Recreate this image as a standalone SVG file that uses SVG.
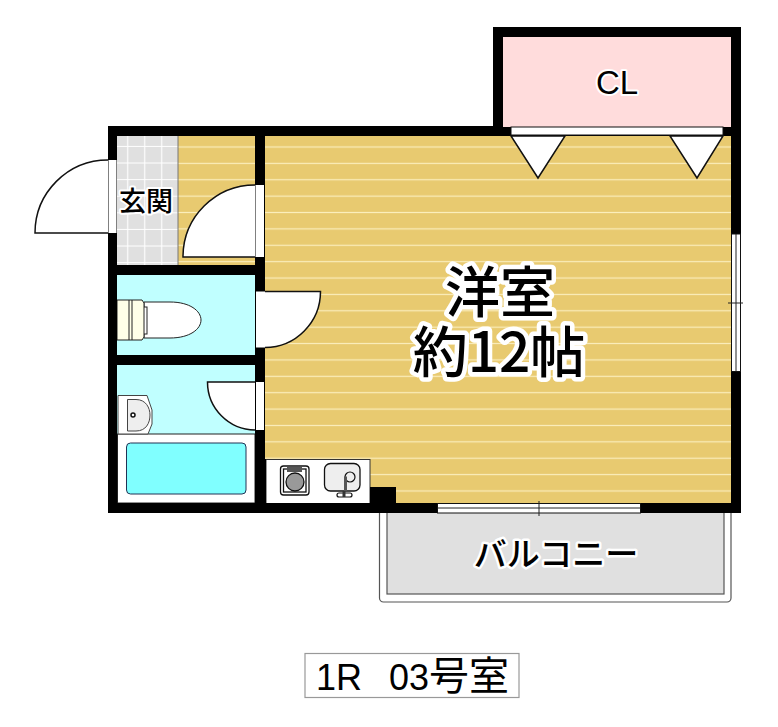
<svg xmlns="http://www.w3.org/2000/svg" width="778" height="727" viewBox="0 0 778 727">
<style>
.w{fill:#000}
.o{fill:#fff;stroke:#111;stroke-width:1.5}
.d{fill:#fff;stroke:none}
.t{font-family:"Liberation Sans","Noto Sans CJK JP",sans-serif;fill:#000;text-anchor:middle}
.j{font-family:"Noto Sans CJK JP","Liberation Sans",sans-serif;font-weight:500;fill:#000;text-anchor:middle}
.h{stroke:#fff;stroke-linejoin:round;paint-order:stroke}
.fx{fill:#fff;stroke:#222;stroke-width:1}
</style>
<defs>
<pattern id="wood" patternUnits="userSpaceOnUse" x="0" y="138.8" width="20" height="16.38"><rect width="20" height="16.38" fill="#e8ca70"/><rect y="7.6" width="20" height="1.2" fill="#fbeebc"/></pattern>
<pattern id="tile" patternUnits="userSpaceOnUse" x="111.3" y="130.3" width="17" height="16.6"><rect width="17" height="16.6" fill="#e0e0e0"/><path d="M16.5 0V16.6M0 16.2H17" stroke="#fff" stroke-width="1.2"/></pattern>
</defs>
<rect width="778" height="727" fill="#fff"/>
<g id="balcony">
<rect x="379.5" y="505" width="351.5" height="97" rx="4" fill="#fff" stroke="#555" stroke-width="1.2"/>
<rect x="387" y="505" width="337" height="89" fill="#e0e0e0" stroke="#555" stroke-width="1.2"/>
<text class="j h" x="556" y="566" font-size="33" stroke-width="5">バルコニー</text>
</g>
<g id="room-main">
<rect x="265" y="136" width="466" height="367" fill="url(#wood)"/>
<text class="j h" font-size="55" stroke-width="9"><tspan x="500" y="312">洋室</tspan><tspan x="499" y="372">約12帖</tspan></text>
</g>
<g id="entrance">
<rect x="178" y="136" width="77" height="129" fill="url(#wood)"/>
<rect x="117" y="136" width="61" height="129" fill="url(#tile)"/>
<path d="M178 136V265" stroke="#777" stroke-width="1"/>
</g>
<g id="toilet">
<rect x="117" y="275" width="138" height="80" fill="#c0ffff"/>
<path d="M144 302H170C190 302 201 311 201 320C201 329 190 338 170 338H144Z" class="fx" stroke-width="1.2"/>
<rect x="143" y="307" width="4" height="27" class="fx"/>
<path d="M117 300H142L144 303V337L142 340H117Z" fill="#ffffe8" stroke="#222" stroke-width="1"/>
<path d="M129 300V340M132 300V340" stroke="#222" stroke-width="1" fill="none"/>
</g>
<g id="bath">
<rect x="117" y="365" width="138" height="70" fill="#c0ffff"/>
<rect x="117.500" y="434" width="137.500" height="69" fill="#fff" stroke="#222" stroke-width="1"/>
<rect x="126.500" y="443" width="119.500" height="51" rx="4" fill="#80ffff" stroke="#235" stroke-width="1"/>
<path d="M118 395.500H147L152 410V424L148 434H118Z" fill="#fff" stroke="#444" stroke-width="1"/>
<path d="M127.500 399.500H136C146 399.500 150 408 150 415C150 423 146 431 136 431H127.500Z" fill="#eee" stroke="#444" stroke-width="1"/>
<circle cx="133" cy="415" r="2" fill="#fff" stroke="#111" stroke-width="1.5"/>
</g>
<g id="kitchen">
<rect x="266" y="459.500" width="104" height="44" fill="#fff" stroke="#333" stroke-width="1"/>
<rect x="280.500" y="466" width="28.500" height="29" rx="3" fill="#fff" stroke="#111" stroke-width="1.300"/>
<rect x="283.500" y="469" width="22.500" height="23" fill="#fff" stroke="#111" stroke-width="1.300"/>
<rect x="287" y="467" width="15" height="5" fill="#555"/>
<circle cx="295" cy="482" r="9" fill="#999" stroke="#111" stroke-width="1.300"/>
<rect x="324.500" y="463.500" width="35.500" height="27.500" rx="6" fill="#eee" stroke="#111" stroke-width="1.300"/>
<circle cx="350" cy="477" r="5" fill="#eee" stroke="#111" stroke-width="1.200"/>
<path d="M344 478H345.500V491" fill="none" stroke="#555" stroke-width="3"/>
<rect x="337" y="493" width="15" height="4" rx="2" fill="#fff" stroke="#111" stroke-width="1.200"/>
<path d="M344 491V497" stroke="#333" stroke-width="3"/>
</g>
<g id="closet">
<rect x="503" y="37" width="228" height="90" fill="#ffdcdc"/>
<text class="t h" x="617" y="94" font-size="33" stroke-width="4">CL</text>
</g>
<g id="walls">
<path class="w" d="M108 126H493V27H741V513H108ZM117 136V265H255V136ZM265 136V459H266V503H370V487H396V503H731V136H503V126H503V37H731V127H503V136ZM117 275V355H255V275ZM117 365V503H255V365Z" fill-rule="evenodd"/>
<rect x="265" y="503" width="1" height="1" fill="#000"/>
</g>
<g id="doors">
<path class="o" d="M108 160A73 73 0 0 0 35 233H108"/>
<rect class="d" x="108.500" y="160" width="8" height="73"/>
<path class="o" d="M255 185A72 72 0 0 0 183 257H255"/>
<rect class="d" x="255.500" y="185" width="8.500" height="72"/>
<path class="o" d="M265 291.500H320.500A56 56 0 0 1 265 347.500"/>
<rect class="d" x="256" y="291.500" width="9" height="56"/>
<path class="o" d="M255 382H207.500A48 48 0 0 0 255 430"/>
<rect class="d" x="256" y="382" width="8" height="48"/>
</g>
<g id="closet-doors">
<rect x="511" y="127" width="212" height="8" fill="#fff" stroke="#111" stroke-width="1"/>
<path class="o" d="M511 136H565L538 178Z"/>
<path class="o" d="M670 136H723L697 178Z"/>
</g>
<g id="windows">
<rect x="731.500" y="234" width="9" height="137.500" fill="#fff" stroke="#111" stroke-width="1"/>
<path d="M736 234V371.500M728 303H743" stroke="#222" stroke-width="1"/>
<rect x="437.500" y="503.500" width="203" height="9.500" fill="#fff" stroke="#111" stroke-width="1"/>
<path d="M437.500 508H640.500" stroke="#222" stroke-width="1"/>
<path d="M539 501V516" stroke="#222" stroke-width="1"/>
</g>
<g id="entrance-label">
<text class="j h" x="146" y="211" font-size="27" stroke-width="4">玄関</text>
</g>
<g id="title">
<rect x="305" y="653.500" width="214" height="44" fill="#fff" stroke="#999" stroke-width="1.200"/>
<text class="t" x="339" y="690" font-size="37" textLength="46" lengthAdjust="spacingAndGlyphs">1R</text>
<text class="t" x="409" y="690" font-size="37" textLength="40" lengthAdjust="spacingAndGlyphs">03</text>
<text class="t" x="469" y="690" font-size="40" textLength="80" lengthAdjust="spacingAndGlyphs">号室</text>
</g>
</svg>
